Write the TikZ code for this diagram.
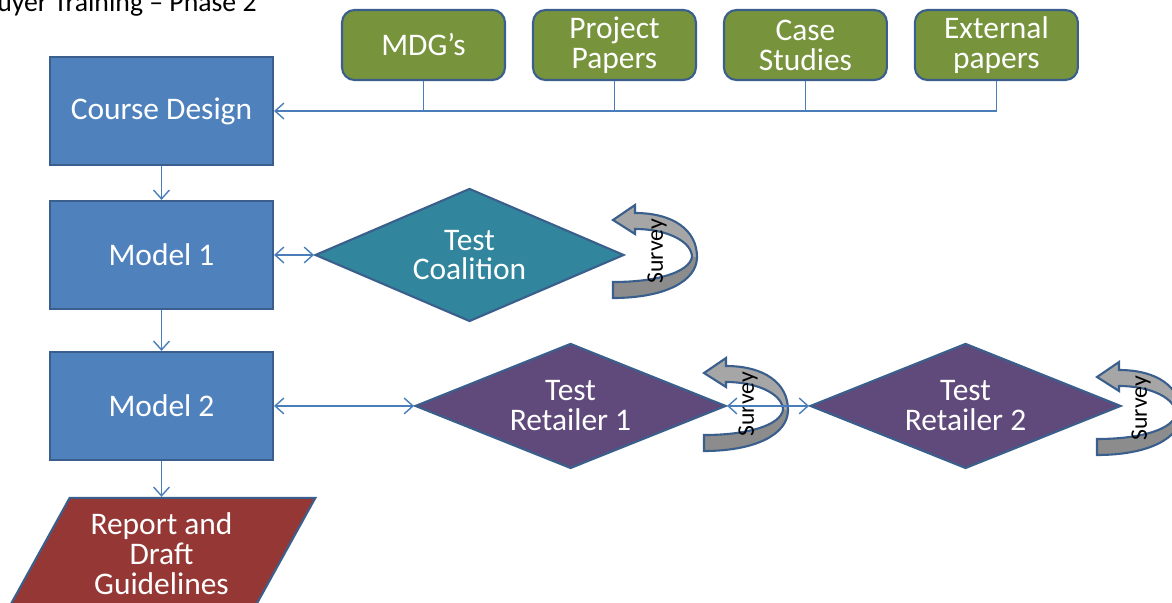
\documentclass[tikz,border=0pt]{standalone}
\usepackage{fontspec}
\setmainfont{Carlito}
\usetikzlibrary{%
  shapes.geometric,
  arrows.meta,
  positioning,
  calc
}
\definecolor{boxblue}{HTML}{4F81BD}
\definecolor{edgeblue}{HTML}{3A5F8C}
\definecolor{linkblue}{HTML}{4A7EBB}
\definecolor{paperolive}{HTML}{77933C}
\definecolor{testteal}{HTML}{31859C}
\definecolor{testpurple}{HTML}{604A7B}
\definecolor{reportred}{HTML}{953735}
\definecolor{surveylight}{HTML}{A6A6A6}
\definecolor{surveydark}{HTML}{8C8C8C}
\newcommand{\blockfont}{\fontsize{17.9}{17}\selectfont}
\newcommand{\headfont}{\fontsize{15.8}{18}\selectfont}
\newcommand{\surveysize}{\fontsize{13.5}{15}\selectfont}
\tikzstyle{block} = [draw=edgeblue, fill=boxblue, rectangle, line width=1.2pt, minimum width=4.46cm, minimum height=2.16cm, text=white, font=\blockfont]
\tikzstyle{source} = [draw=edgeblue, fill=paperolive, rectangle, rounded corners=0.25cm, line width=1.2pt, minimum width=3.26cm, minimum height=1.4cm, text=white, align=center, font=\blockfont]
\tikzstyle{test} = [draw=edgeblue, diamond, aspect=2.4, line width=1.2pt, inner sep=0pt, text=white, align=center, font=\blockfont]
\tikzstyle{report} = [draw=edgeblue, fill=reportred, trapezium, trapezium left angle=61, trapezium right angle=119, trapezium stretches=false, line width=1.2pt, minimum width=6.1cm, minimum height=2.24cm, text=white, align=center, font=\blockfont]
\tikzstyle{link} = [draw=linkblue, line width=0.8pt]
\tikzstyle{surveyband} = [draw=edgeblue, line width=1.2pt]

\begin{document}
\begin{tikzpicture}[x=0.02cm, y=-0.02cm, node distance=1cm, >={Straight Barb[length=5pt,width=9pt]}]
        \useasboundingbox (0,0) rectangle (1172,602);
        \node[anchor=base west, font=\headfont] (title) at (-24,11) {Buyer Training – Phase 2};
        % course blocks down the left
        \node[block] (design) at (161.5,111) {Course Design};
        \node[block, below of=design, node distance=2.88cm] (model1) {Model 1};
        \node[block, below of=model1, node distance=3.02cm] (model2) {Model 2};
        \node[report, below of=model2, node distance=2.96cm] (report) {Report and\\Draft\\Guidelines};
        % sources feeding the course design
        \node[source] (mdg) at (423.5,45) {MDG’s};
        \node[source, right of=mdg, node distance=3.82cm] (project) {Project\\Papers};
        \node[source, right of=project, node distance=3.82cm] (case) {Case\\Studies};
        \node[source, right of=case, node distance=3.82cm] (external) {External\\papers};
        % test runs
        \node[test, fill=testteal, minimum width=6.18cm, minimum height=2.66cm, right=0.8cm of model1] (coalition) {Test\\Coalition};
        \node[test, fill=testpurple, minimum width=6.22cm, minimum height=2.5cm, right=2.8cm of model2] (retailer1) {Test\\Retailer 1};
        \node[test, fill=testpurple, minimum width=6.22cm, minimum height=2.5cm, right=1.64cm of retailer1] (retailer2) {Test\\Retailer 2};
        % survey loops after each test
        \foreach \tx/\ty/\nm in {613/220/survey1, 704/373/survey2, 1097/377/survey3}{
          \begin{scope}[shift={(\tx,\ty)}]
            \fill[surveylight] (0,0) -- (22,-15) -- (22,-7) .. controls (60,-7) and (84,10) .. (84,37) .. controls (84,62) and (50,78) .. (0,78) -- (0,62) .. controls (45,62) and (76,52) .. (79,37) .. controls (79,22) and (55,9) .. (22,9) -- (22,14) -- cycle;
            \fill[surveydark] (84,37) .. controls (84,62) and (50,78) .. (0,78) -- (0,62) .. controls (45,62) and (76,52) .. (79,37) -- cycle;
            \draw[surveyband] (0,0) -- (22,-15) -- (22,-7) .. controls (60,-7) and (84,10) .. (84,37) .. controls (84,62) and (50,78) .. (0,78) -- (0,62) .. controls (45,62) and (76,52) .. (79,37) .. controls (79,22) and (55,9) .. (22,9) -- (22,14) -- cycle;
            \node[rotate=90, font=\surveysize] (\nm) at (44,31) {Survey};
          \end{scope}
        }
        % connectors
        \draw[link, ->] (design) -- (model1);
        \draw[link, ->] (model1) -- (model2);
        \draw[link, ->] (model2.south) -- (model2.south |- report.north);
        \draw[link, <->] (model1) -- (coalition);
        \draw[link, <->] (model2) -- (retailer1);
        \draw[link, <->] (retailer1) -- (retailer2);
        \draw[link, ->] (external.south) |- (design.east);
        \foreach \src in {mdg, project, case}
          \draw[link] (\src.south) -- (\src.south |- design.east);
\end{tikzpicture}
\end{document}
